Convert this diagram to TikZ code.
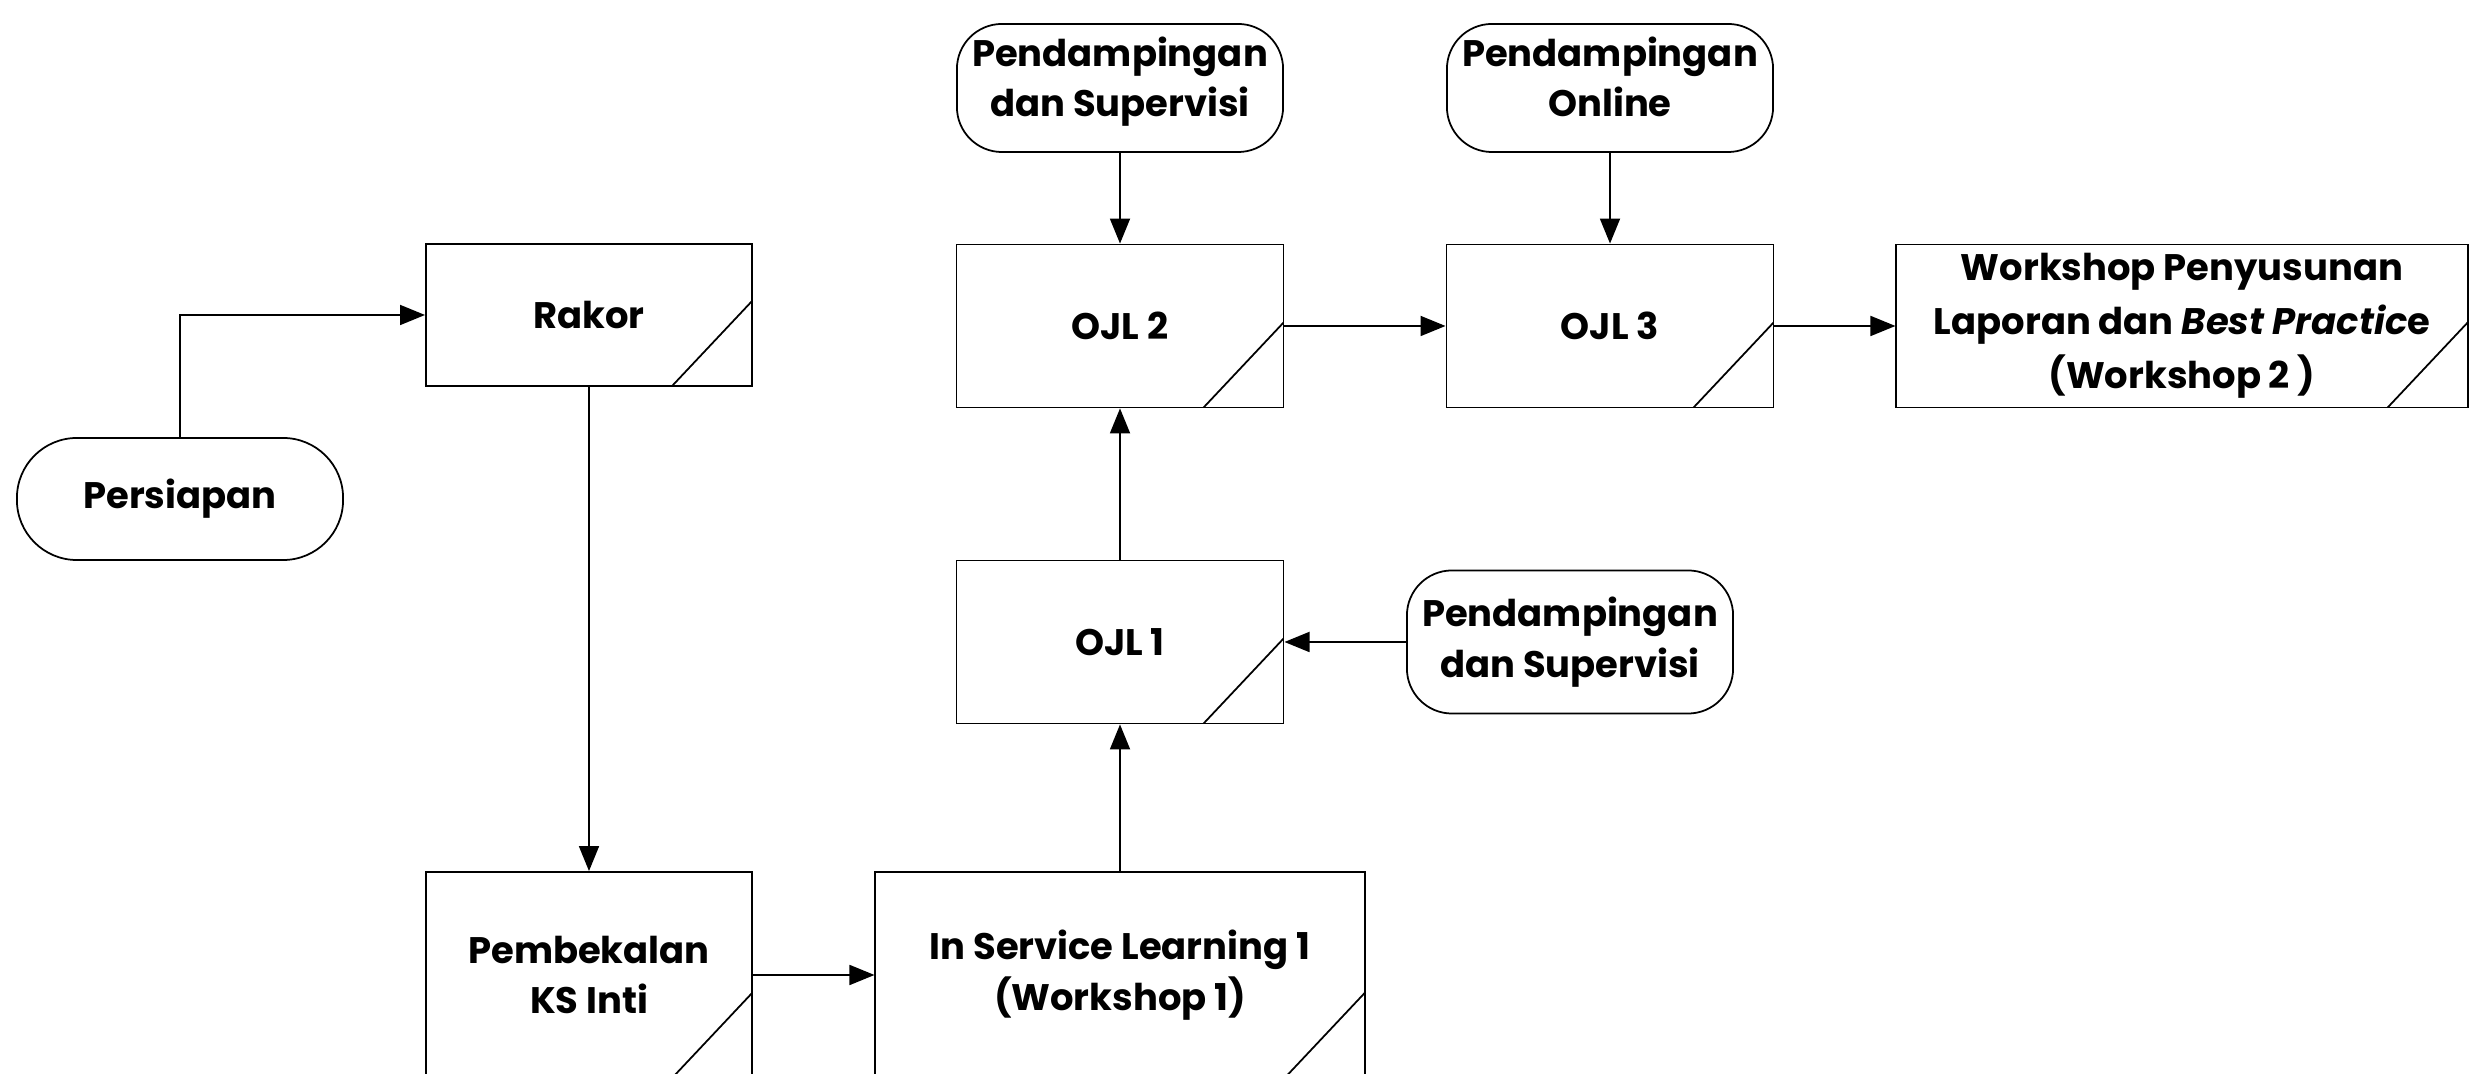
\documentclass[tikz,border=0pt]{standalone}
\usepackage{fontspec}
\setmainfont{Poppins}
\usetikzlibrary{arrows.meta}
\begin{document}
\begin{tikzpicture}[x=0.01cm,y=-0.01cm,
  every node/.style={font=\fontsize{10.5}{14.4}\selectfont\bfseries, align=center, inner sep=0pt},
  proc/.style={draw, line width=0.5pt, path picture={\draw[line width=0.5pt] ([xshift=-0.8cm]path picture bounding box.south east) -- ([yshift=0.85cm]path picture bounding box.south east);}},
  term/.style={draw, line width=0.5pt, rounded corners=0.45cm, minimum width=3.26cm, minimum height=1.28cm},
  arr/.style={-{Triangle[length=0.25cm,width=0.2cm]}, line width=0.5pt}]
\useasboundingbox (0,0) rectangle (2481,1074);
\coordinate (c1) at (180,499);
\coordinate (c2) at (589,315);
\coordinate (c3) at (589,975);
\coordinate (c4) at (1120,975);
\coordinate (c5) at (1120,642);
\coordinate (c6) at (1570,642);
\coordinate (c7) at (1120,326);
\coordinate (c8) at (1120,88);
\coordinate (c9) at (1610,326);
\coordinate (c10) at (1610,88);
\coordinate (c11) at (2182,326);

  \node (persiapan) at (c1) [draw,line width=0.5pt,rounded corners=0.6cm,minimum width=3.26cm,minimum height=1.22cm] {Persiapan};
  \node (rakor) at (c2) [proc,minimum width=3.26cm,minimum height=1.42cm] {Rakor};
  \node (pembekalan) at (c3) [proc,minimum width=3.26cm,minimum height=2.06cm] {Pembekalan\\KS Inti};
  \node (isl) at (c4) [proc,minimum width=4.89cm,minimum height=2.06cm] {In Service Learning 1\\(Workshop 1)};
  \node (ojl1) at (c5) [proc,minimum width=3.27cm,minimum height=1.63cm] {OJL 1};
  \node (pend1) at (c6) [term,minimum height=1.43cm] {Pendampingan\\dan Supervisi};
  \node (ojl2) at (c7) [proc,minimum width=3.27cm,minimum height=1.63cm] {OJL 2};
  \node (pend2) at (c8) [term,text depth=6.5pt] {Pendampingan\\dan Supervisi};
  \node (ojl3) at (c9) [proc,minimum width=3.27cm,minimum height=1.63cm] {OJL 3};
  \node (online) at (c10) [term,text depth=6.5pt] {Pendampingan\\Online};
  \node (wsp) at (c11) [proc,minimum width=5.71cm,minimum height=1.63cm] {Workshop Penyusunan\\[1pt]Laporan dan \textit{Best Practic}e\\[1pt](Workshop 2 )};

  \draw[arr] (persiapan.north) |- (rakor.west);
  \draw[arr] (rakor.south) to[] (pembekalan.north);
  \draw[arr] (pembekalan.east) to[] (isl.west);
  \draw[arr] (isl.north) to[] (ojl1.south);
  \draw[arr] (ojl1.north) to[] (ojl2.south);
  \draw[arr] (pend1.west) to[] (ojl1.east);
  \draw[arr] (pend2.south) to[] (ojl2.north);
  \draw[arr] (online.south) to[] (ojl3.north);
  \draw[arr] (ojl2.east) to[] (ojl3.west);
  \draw[arr] (ojl3.east) to[] (wsp.west);
\end{tikzpicture}
\end{document}
